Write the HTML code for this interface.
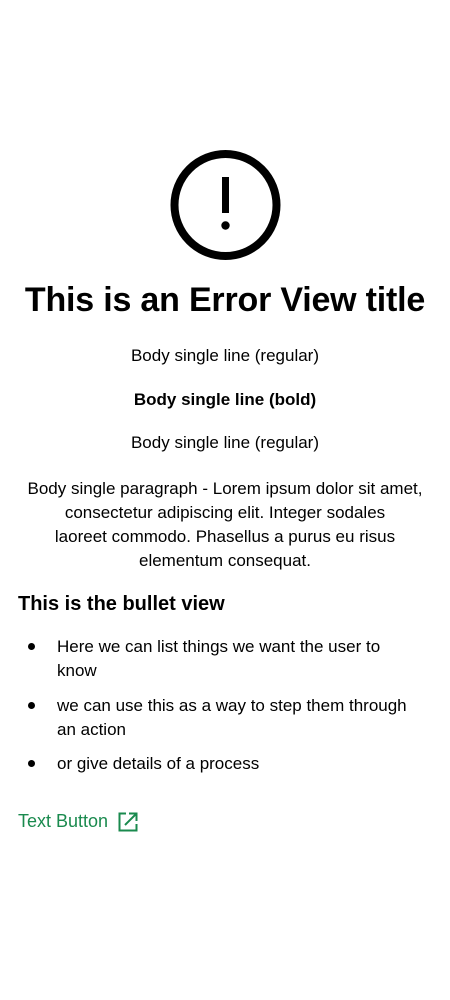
<!DOCTYPE html>
<html><head><style>
body{margin:0;width:450px;height:1000px;background:#fff;font-family:"Liberation Sans",sans-serif;color:#000;position:relative;overflow:hidden}
.a{position:absolute;left:0;width:450px;text-align:center;white-space:nowrap}
.b{font-size:17px}
</style></head><body>
<svg style="position:absolute;left:0;top:0" width="450" height="300">
<circle cx="225.5" cy="205" r="51" fill="none" stroke="#000" stroke-width="8"/>
<rect x="222" y="177" width="7" height="36" fill="#000"/>
<circle cx="225.5" cy="225.5" r="4.2" fill="#000"/>
</svg>
<div class="a" style="top:281px;font-size:34px;font-weight:bold;letter-spacing:-0.2px">This is an Error View title</div>
<div class="a b" style="top:346px">Body single line (regular)</div>
<div class="a b" style="top:390px;font-weight:bold">Body single line (bold)</div>
<div class="a b" style="top:433px">Body single line (regular)</div>
<div class="a b" style="top:477px;line-height:24px">Body single paragraph - Lorem ipsum dolor sit amet,<br>consectetur adipiscing elit. Integer sodales<br>laoreet commodo. Phasellus a purus eu risus<br>elementum consequat.</div>
<div style="position:absolute;left:18px;top:593px;font-size:20px;font-weight:bold">This is the bullet view</div>
<div class="b" style="position:absolute;left:57px;top:635px;width:345px;line-height:24px">Here we can list things we want the user to know</div>
<div class="b" style="position:absolute;left:57px;top:694px;width:370px;line-height:24px">we can use this as a way to step them through an action</div>
<div class="b" style="position:absolute;left:57px;top:752px;width:370px;line-height:24px">or give details of a process</div>
<div style="position:absolute;left:28px;top:643px;width:7px;height:7px;border-radius:50%;background:#000"></div>
<div style="position:absolute;left:28px;top:702px;width:7px;height:7px;border-radius:50%;background:#000"></div>
<div style="position:absolute;left:28px;top:760px;width:7px;height:7px;border-radius:50%;background:#000"></div>
<div style="position:absolute;left:18px;top:811px;font-size:18px;color:#1a8a4e">Text Button</div>
<svg style="position:absolute;left:118px;top:812px" width="20" height="20" viewBox="0 0 20 20">
<path d="M8 1.5H1.5V18.5H18.5V12" fill="none" stroke="#1a8a4e" stroke-width="2"/>
<path d="M7 13L18 2M11 1.5H18.5V9" fill="none" stroke="#1a8a4e" stroke-width="2"/>
</svg>
</body></html>
